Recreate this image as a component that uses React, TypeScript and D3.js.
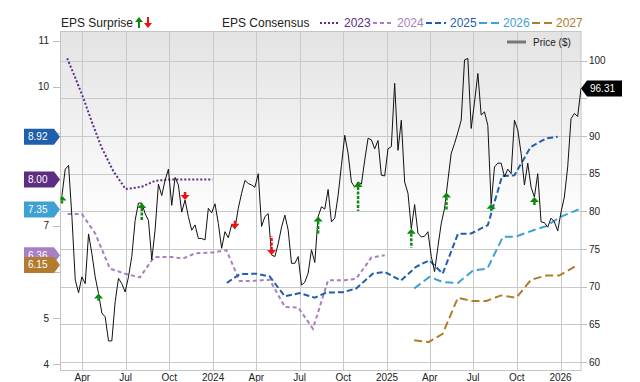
import React from "react";
import * as d3 from "d3";

const W = 640;
const H = 382;

// Weekly closing price ($), first week 2023-02-17
const priceStart = "2023-02-17";
const prices = [
  82.1, 85.6, 86.1, 79.3, 70.9, 69.2, 71.3, 70.4, 77.0, 74.4,
  71.3, 69.1, 66.5, 66.0, 62.8, 62.8, 68.0, 71.1, 70.4, 69.3,
  71.3, 74.0, 78.8, 81.1, 81.1, 79.7, 78.8, 73.6, 77.5, 83.6,
  82.1, 84.1, 85.6, 80.8, 84.5, 83.5, 79.9, 81.5, 79.3, 77.5,
  78.2, 76.4, 76.4, 76.2, 80.4, 79.8, 81.0, 78.4, 75.1, 77.3,
  76.5, 78.2, 77.7, 80.4, 82.4, 84.1, 83.7, 83.5, 83.2, 85.0,
  78.0, 79.3, 79.7, 74.2, 74.0, 75.7, 77.9, 79.5, 77.5, 73.1,
  73.1, 74.0, 70.2, 70.6, 71.8, 74.9, 73.2, 79.3, 80.6, 80.3,
  82.9, 78.6, 79.1, 82.1, 86.1, 90.1, 87.7, 83.9, 83.2, 83.9,
  83.6, 86.8, 89.7, 89.5, 88.3, 89.4, 84.8, 84.7, 88.3, 88.6,
  97.0, 88.1, 92.1, 83.9, 82.4, 77.7, 80.9, 77.1, 76.6, 76.7,
  77.3, 74.0, 72.0, 75.3, 78.4, 80.4, 84.1, 87.7, 89.0, 90.5,
  92.1, 100.1, 100.3, 91.0, 94.5, 98.3, 92.8, 93.2, 91.4, 81.0,
  85.9, 86.4, 86.4, 84.6, 85.6, 85.0, 92.1, 90.8, 87.7, 83.5,
  86.4, 83.2, 81.9, 85.0, 78.6, 78.5, 77.9, 79.1, 78.6, 77.4,
  79.9, 81.9, 85.9, 92.3, 93.0, 92.6, 96.31,
];

// EPS consensus by fiscal year
const eps2023: [string, number][] = [
  ["2023-02-28", 10.62], ["2023-03-17", 10.2], ["2023-04-03", 9.76], ["2023-04-21", 9.24],
  ["2023-05-11", 8.7], ["2023-06-05", 8.18], ["2023-07-01", 7.79], ["2023-08-04", 7.84],
  ["2023-09-01", 7.97], ["2023-10-05", 8.0], ["2023-12-31", 8.0],
];
const eps2024: [string, number][] = [
  ["2023-03-01", 7.25], ["2023-03-31", 7.25], ["2023-04-28", 6.83], ["2023-05-29", 6.07],
  ["2023-06-30", 5.96], ["2023-07-31", 5.88], ["2023-08-25", 6.25], ["2023-09-01", 6.32],
  ["2023-10-05", 6.32], ["2023-10-30", 6.29], ["2023-11-24", 6.4], ["2023-12-31", 6.42],
  ["2024-01-29", 6.47], ["2024-02-26", 5.8], ["2024-03-18", 5.8], ["2024-04-29", 5.83],
  ["2024-05-31", 5.24], ["2024-06-28", 5.23], ["2024-07-29", 4.77], ["2024-08-30", 5.82],
  ["2024-10-04", 5.82], ["2024-10-28", 5.85], ["2024-11-29", 6.31], ["2024-12-27", 6.36],
];
const eps2025: [string, number][] = [
  ["2024-01-30", 5.76], ["2024-02-26", 5.95], ["2024-04-01", 5.96], ["2024-04-29", 5.9],
  ["2024-05-31", 5.47], ["2024-07-01", 5.54], ["2024-08-02", 5.44], ["2024-08-26", 5.55],
  ["2024-09-30", 5.56], ["2024-10-28", 5.64], ["2024-12-02", 5.96], ["2024-12-27", 6.0],
  ["2025-01-30", 5.81], ["2025-03-03", 6.11], ["2025-03-31", 6.25], ["2025-04-28", 5.96],
  ["2025-05-30", 6.82], ["2025-06-27", 6.83], ["2025-08-01", 7.01], ["2025-08-31", 8.07],
  ["2025-09-26", 8.09], ["2025-10-30", 8.7], ["2025-12-02", 8.89], ["2025-12-26", 8.92],
];
const eps2026: [string, number][] = [
  ["2025-02-27", 5.64], ["2025-03-31", 5.89], ["2025-04-28", 5.78], ["2025-05-30", 5.76],
  ["2025-07-01", 6.03], ["2025-07-31", 6.07], ["2025-09-02", 6.76], ["2025-09-28", 6.76],
  ["2025-11-02", 6.89], ["2025-12-02", 6.99], ["2026-01-01", 7.19], ["2026-02-08", 7.35],
];
const eps2027: [string, number][] = [
  ["2025-02-27", 4.52], ["2025-03-29", 4.48], ["2025-04-28", 4.66], ["2025-05-30", 5.44],
  ["2025-06-27", 5.37], ["2025-07-29", 5.37], ["2025-08-29", 5.49], ["2025-09-30", 5.44],
  ["2025-10-31", 5.83], ["2025-12-02", 5.92], ["2025-12-29", 5.92], ["2026-02-06", 6.15],
];

// EPS surprise events (%)
const surpriseDates = [
  "2023-02-17", "2023-05-05", "2023-08-04", "2023-11-03", "2024-02-16", "2024-05-03",
  "2024-08-09", "2024-11-01", "2025-02-21", "2025-05-06", "2025-08-08", "2025-11-07",
];
const surpriseValues = [4, 3.6, 8.5, -4.2, -3.9, -9.5, 9.2, 14.5, 9.5, 9.2, 3.4, 4.2];

const seriesNames = ["2023", "2024", "2025", "2026", "2027"];
const seriesData = [eps2023, eps2024, eps2025, eps2026, eps2027];
const seriesColors = ["#5c2d83", "#a77fc2", "#1f5fae", "#3ea1d2", "#b27c2e"];
const seriesDash = ["2,2", "4,3", "6,3", "8,4", "8,4"];
const badgeOrder = [2, 0, 3, 1, 4];

const xTickDates = [
  "2023-04-01", "2023-07-01", "2023-10-01", "2024-01-01", "2024-04-01", "2024-07-01",
  "2024-10-01", "2025-01-01", "2025-04-01", "2025-07-01", "2025-10-01", "2026-01-01",
];
const xTickLabels = ["Apr", "Jul", "Oct", "2024", "Apr", "Jul", "Oct", "2025", "Apr", "Jul", "Oct", "2026"];
const leftTicks = [4, 5, 6, 7, 8, 9, 10, 11];
const rightTicks = [60, 65, 70, 75, 80, 85, 90, 95, 100];

const FONT = "'Liberation Sans', Arial, sans-serif";

export default function App() {
  const parse = d3.timeParse("%Y-%m-%d") as (s: string) => Date;
  const plotL = 60.5, plotR = 581, plotT = 31, plotB = 370;
  const x = d3.scaleTime().domain([parse("2023-02-14"), parse("2026-02-13")]).range([plotL, plotR]);
  const yL = d3.scaleLinear().domain([4, 11]).range([364.3, 40.7]);
  const yR = d3.scaleLinear().domain([60, 100]).range([362, 60.7]);

  const start = parse(priceStart);
  const priceData = prices.map((v, i) => ({ date: d3.timeDay.offset(start, 7 * i), value: v }));
  const priceLine = d3.line<{ date: Date; value: number }>().x((d) => x(d.date)).y((d) => yR(d.value));

  const epsLine = d3.line<[string, number]>().x((d) => x(parse(d[0]))).y((d) => yL(d[1]));

  const bis = d3.bisector((d: { date: Date }) => d.date).left;
  const priceAt = (dt: Date) => {
    const i = bis(priceData, dt);
    if (i <= 0) return priceData[0].value;
    if (i >= priceData.length) return priceData[priceData.length - 1].value;
    const a = priceData[i - 1], b = priceData[i];
    const t = (+dt - +a.date) / (+b.date - +a.date);
    return a.value + t * (b.value - a.value);
  };
  const lenScale = d3.scaleLinear().domain([0, 1]).range([0, 2]);

  const last = priceData[priceData.length - 1];
  const lastY = yR(last.value);

  const badgeYs = seriesData.map((s) => yL(s[s.length - 1][1]));
  const hiddenByBadge = (yy: number) => badgeYs.some((b) => Math.abs(b - yy) < 12);

  const legendItems = [
    { x0: 320, tx: 344 },
    { x0: 373, tx: 397 },
    { x0: 426, tx: 450 },
    { x0: 479, tx: 503 },
    { x0: 532, tx: 556 },
  ];

  return (
    <svg width={W} height={H} style={{ position: "absolute", left: 0, top: 0, fontFamily: FONT }}>
      <defs>
        <linearGradient id="bg" x1="0" y1="0" x2="0" y2="1">
          <stop offset="0%" stopColor="#e3e3e3" />
          <stop offset="58%" stopColor="#ffffff" />
          <stop offset="100%" stopColor="#ffffff" />
        </linearGradient>
        <clipPath id="plotClip">
          <rect x={plotL} y={plotT} width={plotR - plotL} height={plotB - plotT} />
        </clipPath>
      </defs>
      <rect x={0} y={0} width={W} height={H} fill="#ffffff" />
      <rect x={plotL} y={plotT} width={plotR - plotL} height={plotB - plotT} fill="url(#bg)" />

      {/* grid */}
      {rightTicks.map((t) => (
        <line key={"hg" + t} x1={plotL} x2={plotR} y1={Math.round(yR(t)) + 0.5} y2={Math.round(yR(t)) + 0.5} stroke="#c9c9c9" />
      ))}
      {xTickDates.map((d) => {
        const xx = Math.round(x(parse(d))) + 0.5;
        return <line key={"vg" + d} x1={xx} x2={xx} y1={plotT} y2={plotB} stroke="#c9c9c9" />;
      })}
      <rect x={plotL} y={plotT + 0.5} width={plotR - plotL} height={plotB - plotT} fill="none" stroke="#c4c4c4" />

      {/* axes ticks & labels */}
      {leftTicks.map((t) => (
        <g key={"lt" + t}>
          <line x1={53} x2={plotL} y1={Math.round(yL(t)) + 0.5} y2={Math.round(yL(t)) + 0.5} stroke="#bdbdbd" />
          {hiddenByBadge(yL(t)) ? null : (
            <text x={49} y={yL(t) + 3.5} fontSize={10} textAnchor="end" fill="#222">{t}</text>
          )}
        </g>
      ))}
      {rightTicks.map((t) => (
        <g key={"rt" + t}>
          <line x1={plotR} x2={587} y1={Math.round(yR(t)) + 0.5} y2={Math.round(yR(t)) + 0.5} stroke="#bdbdbd" />
          {Math.abs(yR(t) - lastY) < 12 ? null : (
            <text x={589} y={yR(t) + 3.5} fontSize={10} fill="#222">{t}</text>
          )}
        </g>
      ))}
      {xTickDates.map((d, i) => (
        <text key={"xl" + d} x={x(parse(d))} y={381} fontSize={10} textAnchor="middle" fill="#222">{xTickLabels[i]}</text>
      ))}

      <g clipPath="url(#plotClip)">
        {/* EPS consensus lines */}
        {seriesData.map((s, i) => (
          <path key={"eps" + i} d={epsLine(s) || ""} fill="none" stroke={seriesColors[i]} strokeWidth={2} strokeDasharray={seriesDash[i]} />
        ))}
        {/* price */}
        <path d={priceLine(priceData) || ""} fill="none" stroke="#111" strokeWidth={1} strokeLinejoin="round" />
        {/* surprise arrows */}
        {surpriseDates.map((ds, i) => {
          const dt = parse(ds);
          const xx = x(dt);
          const ty = yR(priceAt(dt));
          const v = surpriseValues[i];
          const len = Math.max(7, lenScale(Math.abs(v)));
          const up = v >= 0;
          const col = up ? "#0b8a0b" : "#f01010";
          const dir = up ? 1 : -1;
          const headH = 5;
          return (
            <g key={"s" + i}>
              <line x1={xx} x2={xx} y1={ty + dir * headH} y2={ty + dir * len} stroke={col} strokeWidth={2.5} strokeDasharray="3,1.5" />
              <path d={`M${xx},${ty} L${xx - 4.5},${ty + dir * headH} L${xx + 4.5},${ty + dir * headH} Z`} fill={col} />
            </g>
          );
        })}
      </g>

      {/* price legend */}
      <line x1={507} x2={526} y1={42} y2={42} stroke="#777" strokeWidth={3} />
      <text x={533} y={46} fontSize={10} fill="#222">Price ($)</text>

      {/* last price badge */}
      <path d={`M${plotR},${lastY} L${plotR + 6},${lastY - 8} H622 V${lastY + 8} H${plotR + 6} Z`} fill="#000" />
      <text x={590} y={lastY + 3.5} fontSize={10} fill="#fff">{last.value.toFixed(2)}</text>

      {/* left badges */}
      {badgeOrder.map((si) => {
        const s = seriesData[si];
        const v = s[s.length - 1][1];
        const yy = yL(v);
        return (
          <g key={"b" + si}>
            <path d={`M24,${yy - 8} H54 L60,${yy} L54,${yy + 8} H24 Z`} fill={seriesColors[si]} />
            {si === 1 ? null : (
              <text x={28} y={yy + 3.5} fontSize={10} fill="#fff">{v.toFixed(2)}</text>
            )}
          </g>
        );
      })}
      {/* partially covered 6.36 label peeks above the 6.15 badge */}
      <clipPath id="peek">
        <rect x={24} y={0} width={40} height={yL(6.15) - 8} />
      </clipPath>
      <text x={28} y={yL(6.36) + 3.5} fontSize={10} fill="#fff" clipPath="url(#peek)">{(6.36).toFixed(2)}</text>

      {/* top legend */}
      <text x={61} y={27} fontSize={12} fill="#222">EPS Surprise</text>
      <path d="M139,17 L135,22 L143,22 Z" fill="#0b8a0b" />
      <rect x={138} y={22} width={2} height={6} fill="#0b8a0b" />
      <path d="M148,28 L144,23 L152,23 Z" fill="#f01010" />
      <rect x={147} y={17} width={2} height={6} fill="#f01010" />
      <text x={222} y={27} fontSize={12} fill="#222">EPS Consensus</text>
      {seriesNames.map((n, i) => (
        <g key={"lg" + n}>
          <line x1={legendItems[i].x0} x2={legendItems[i].x0 + 20} y1={23} y2={23} stroke={seriesColors[i]} strokeWidth={2} strokeDasharray={seriesDash[i]} />
          <text x={legendItems[i].tx} y={27} fontSize={12} fill={seriesColors[i]}>{n}</text>
        </g>
      ))}
    </svg>
  );
}
